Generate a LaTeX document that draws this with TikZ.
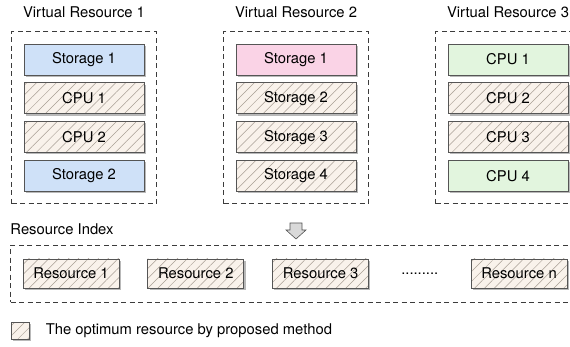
\documentclass[tikz,border=0pt]{standalone}
\usepackage{fontspec}
\setmainfont{TeX Gyre Heros}
\usetikzlibrary{positioning, fit, calc, shadows, patterns.meta}

\definecolor{boxline}{HTML}{555555}
\definecolor{storblue}{HTML}{CFE1F8}
\definecolor{storpink}{HTML}{FAD3E6}
\definecolor{cpugreen}{HTML}{E2F5DE}
\definecolor{hatchbg}{HTML}{F9F2EB}
\definecolor{hatchline}{HTML}{A89E94}
\definecolor{framegray}{HTML}{3C3C3C}

\begin{document}
\begin{tikzpicture}[x=1pt, y=-1pt, node distance=7pt,
    font=\fontsize{14.8}{17}\selectfont,
    res/.style={draw=boxline, line width=0.8pt, minimum width=120pt, minimum height=31pt, inner sep=0pt,
        drop shadow={shadow xshift=1.8pt, shadow yshift=-1.8pt, opacity=0.55}},
    bluebox/.style={res, fill=storblue},
    pinkbox/.style={res, fill=storpink},
    greenbox/.style={res, fill=cpugreen},
    hatched/.style={res, fill=hatchbg,
        postaction={pattern={Lines[angle=45, distance=7pt, line width=0.5pt]}, pattern color=hatchline},
        postaction={draw=boxline, line width=0.8pt}},
    idxbox/.style={hatched, minimum width=96pt, minimum height=29pt},
    frame/.style={draw=framegray, line width=0.7pt, dash pattern=on 5pt off 3.5pt, inner sep=12pt},
    title/.style={inner sep=0pt},
    arrowshape/.style={draw=gray!65!black, fill=gray!30, line width=0.6pt, line join=miter}]

    \clip (0,0) rectangle (570,347);
    \useasboundingbox (0,0) rectangle (570,347);

    %define the first virtual resource
    \node[bluebox] (vr1a) at (84,59.5) {Storage 1};
    \node[hatched] (vr1b) [below=of vr1a] {CPU 1};
    \node[hatched] (vr1c) [below=of vr1b] {CPU 2};
    \node[bluebox] (vr1d) [below=of vr1c] {Storage 2};
    \node[frame, fit=(vr1a)(vr1d)] (vr1) {};
    \node[title] (vr1title) [above=13pt of vr1] {Virtual Resource 1};

    %define the second virtual resource
    \node[pinkbox] (vr2a) at (296,59.5) {Storage 1};
    \node[hatched] (vr2b) [below=of vr2a] {Storage 2};
    \node[hatched] (vr2c) [below=of vr2b] {Storage 3};
    \node[hatched] (vr2d) [below=of vr2c] {Storage 4};
    \node[frame, fit=(vr2a)(vr2d)] (vr2) {};
    \node[title] (vr2title) [above=13pt of vr2] {Virtual Resource 2};

    %define the third virtual resource
    \node[greenbox] (vr3a) at (508,59.5) {CPU 1};
    \node[hatched] (vr3b) [below=of vr3a] {CPU 2};
    \node[hatched] (vr3c) [below=of vr3b] {CPU 3};
    \node[greenbox] (vr3d) [below=of vr3c] {CPU 4};
    \node[frame, fit=(vr3a)(vr3d)] (vr3) {};
    \node[title] (vr3title) [above=13pt of vr3] {Virtual Resource 3};

    %define the resource index
    \node[idxbox] (r1) at (71,273.5) {Resource 1};
    \node[idxbox] (r2) [right=28pt of r1] {Resource 2};
    \node[idxbox] (r3) [right=28pt of r2] {Resource 3};
    \node[idxbox] (rn) at (519,273.5) {Resource n};
    \node[title] (dots) at ($(r3.east)!0.5!(rn.west)$) {.........};
    \node[frame, fit=(r1)(rn), inner ysep=13.5pt] (idx) {};
    \node[title, anchor=south west] (idxtitle) at ($(idx.north west)+(0,-10)$) {Resource Index};

    %the arrow down to the index
    \draw[arrowshape] (290,223) -- (302,223) -- (302,230) -- (306,230) -- (296,239)
        -- (286,230) -- (290,230) -- cycle;

    %define the legend
    \node[hatched, minimum width=18pt, minimum height=17pt, anchor=north west] (leg) at ($(idx.south west)+(0.5,20)$) {};
    \node[title] (legtext) [right=16pt of leg] {The optimum resource by proposed method};
\end{tikzpicture}
\end{document}
